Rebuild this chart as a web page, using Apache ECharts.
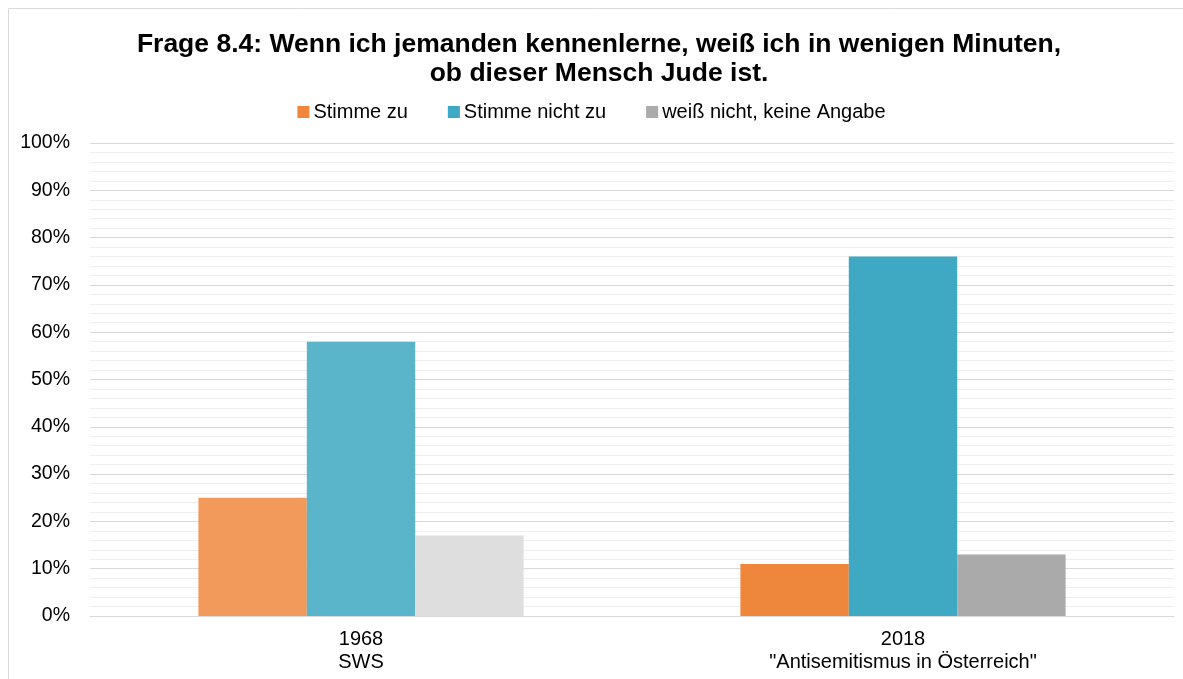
<!DOCTYPE html>
<html>
<head>
<meta charset="utf-8">
<script src="https://cdn.jsdelivr.net/npm/echarts@6/dist/echarts.min.js"></script>
<style>
  html, body { margin: 0; padding: 0; background: #fff; }
  #main { width: 1183px; height: 679px; }
</style>
</head>
<body>
<div id="main"></div>
<script>
// survey years / sources
var categories = ['1968\nSWS', '2018\n"Antisemitismus in Österreich"'];
var seriesNames = ['Stimme zu', 'Stimme nicht zu', 'weiß nicht, keine Angabe'];

// percentages per answer, one value per year
var agree = [25, 11];
var disagree = [58, 76];
var dontKnow = [17, 13];

var yTicks = [0, 10, 20, 30, 40, 50, 60, 70, 80, 90, 100];

// first year drawn in lighter shades, second in full colour
var lightColors = ['#f2995c', '#5bb5ca', '#dedede'];
var darkColors = ['#ee873b', '#3fa8c3', '#aaaaaa'];

var values = [agree, disagree, dontKnow];

var series = seriesNames.map(function (name, i) {
	return {
		name: name,
		type: 'bar',
		barGap: 0,
		barCategoryGap: '40%',
		itemStyle: { color: darkColors[i] },
		data: values[i].map(function (v, j) {
			return { value: v, itemStyle: { color: j === 0 ? lightColors[i] : darkColors[i] } };
		})
	};
});

var chart = echarts.init(document.getElementById('main'));
chart.setOption({
	animation: false,
	textStyle: { fontFamily: '"Liberation Sans", Arial, sans-serif' },
	graphic: [{
		type: 'rect',
		shape: { x: 8.5, y: 8.5, width: 1200, height: 700 },
		style: { fill: 'none', stroke: '#d9d9d9', lineWidth: 1 },
		silent: true
	}],
	title: {
		text: 'Frage 8.4: Wenn ich jemanden kennenlerne, weiß ich in wenigen Minuten,\nob dieser Mensch Jude ist.',
		left: 594,
		textAlign: 'center',
		top: 25,
		textStyle: { fontSize: 26.5, fontWeight: 'bold', color: '#000', lineHeight: 29 }
	},
	legend: {
		top: 97,
		left: 'center',
		itemWidth: 12,
		itemHeight: 12,
		itemGap: 40,
		icon: 'rect',
		textStyle: { fontSize: 20, color: '#000', padding: [0, 0, 0, -1] },
		data: seriesNames
	},
	grid: { left: 90, right: 9, top: 143, bottom: 63 },
	xAxis: {
		type: 'category',
		data: categories,
		axisLine: { lineStyle: { color: '#d9d9d9' } },
		axisTick: { show: false },
		axisLabel: { fontSize: 20, color: '#000', lineHeight: 23, margin: 12 }
	},
	yAxis: {
		type: 'value',
		min: yTicks[0],
		max: yTicks[yTicks.length - 1],
		interval: 10,
		axisLine: { show: false },
		axisTick: { show: false },
		axisLabel: { fontSize: 19.5, color: '#000', margin: 20, formatter: '{value}%' },
		splitLine: { lineStyle: { color: '#d9d9d9' } },
		minorTick: { show: false, splitNumber: 5 },
		minorSplitLine: { show: true, lineStyle: { color: '#eeeeee' } }
	},
	series: series
});
</script>
</body>
</html>
